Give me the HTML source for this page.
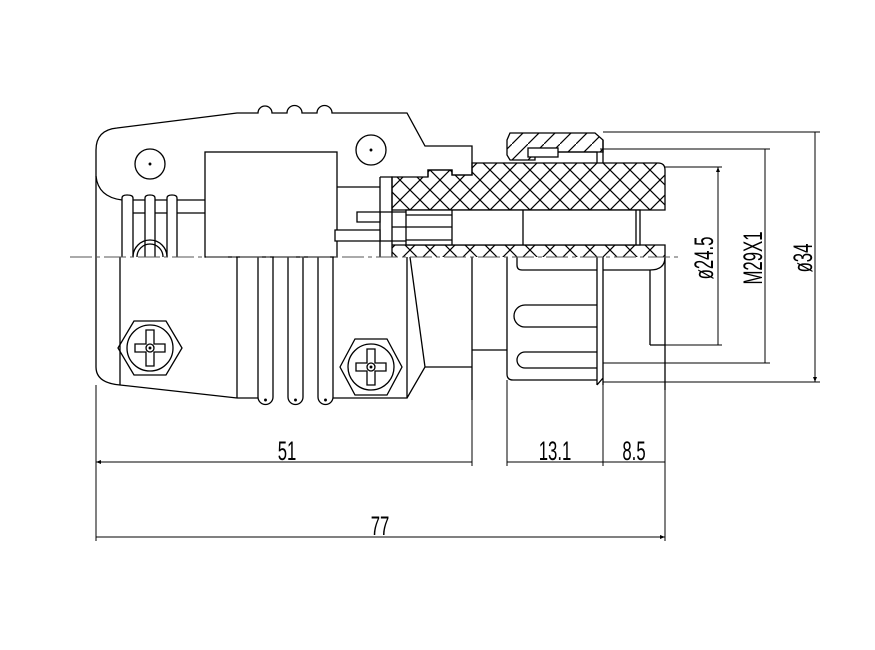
<!DOCTYPE html>
<html><head><meta charset="utf-8"><style>html,body{margin:0;padding:0;background:#fff}svg{display:block}</style></head>
<body>
<svg width="875" height="650" viewBox="0 0 875 650" xmlns="http://www.w3.org/2000/svg" fill="none" stroke="#000" stroke-width="1.3">
<defs>
<pattern id="xh" width="20" height="20" patternUnits="userSpaceOnUse">
<path d="M0 0L20 20M20 0L0 20" stroke="#000" stroke-width="1.2"/>
</pattern>
<pattern id="dh" width="16" height="16" patternUnits="userSpaceOnUse">
<path d="M0 16L16 0" stroke="#000" stroke-width="1.2"/>
</pattern>
<marker id="a" viewBox="0 0 10 10" refX="10" refY="5" markerWidth="16" markerHeight="5" orient="auto-start-reverse" markerUnits="userSpaceOnUse"><path d="M0 1L10 5L0 9z" fill="#000" stroke="none"/></marker>
</defs>
<rect width="875" height="650" fill="#fff" stroke="none"/>

<path d="M96 150 Q96 130 117 128 L237 113 L258 113 A6 6 0 0 1 272 113 L287 113 A7 7 0 0 1 302 113 L317 113 A7 7 0 0 1 332 113 L407 113 L425 146 L472 146 L472 175 L452 175 L452 170 L428 170 L428 177"/>
<path d="M96 150 L96 367 Q96 383 120 385 L237 398"/>
<path d="M96 176 Q98 197 122 200"/>
<circle cx="150" cy="164" r="15"/><circle cx="150" cy="164" r="0.8" fill="#000"/>
<circle cx="371" cy="150" r="15"/><circle cx="371" cy="150" r="0.8" fill="#000"/>
<rect x="205" y="152" width="132" height="105"/>
<path d="M122 257V198Q122 195 127 195Q133 195 133 198V257M145 257V198Q145 195 150 195Q155 195 155 198V257M167 257V198Q167 195 172 195Q177 195 177 198V257"/>
<path d="M133 200H145M155 200H167M177 200H205M133 213H145M155 213H167M177 213H205"/>
<path d="M133 257A17 17 0 0 1 167 257M137 257A13 13 0 0 1 163 257"/>
<path d="M337 187H380M380 177H392V257M380 177V257"/>
<path d="M120 257V385M237 257V398M237 398H258M333 398H407V257M407 398L425 367L410 257M425 367H472M472 257V400M472 350H507"/>
<path d="M258 257V397A7 7 0 0 0 273 397V257M288 257V397A7 7 0 0 0 303 397V257M318 257V397A7 7 0 0 0 333 397V257"/>
<circle cx="265.5" cy="400" r="0.8" fill="#000"/><circle cx="295.5" cy="400" r="0.8" fill="#000"/><circle cx="325.5" cy="400" r="0.8" fill="#000"/>
<g transform="translate(150,348)">
<path d="M-32 0L-16 -27H16L32 0L16 27H-16Z"/><circle r="23"/>
<path d="M-4 -18H4V-4H15V4H4V18H-4V4H-15V-4H-4Z"/><circle r="4"/><circle r="0.8" fill="#000"/>
</g>
<g transform="translate(371,367)">
<path d="M-31 0L-16 -28H16L31 0L16 28H-16Z"/><circle r="23"/>
<path d="M-4 -18H4V-4H15V4H4V18H-4V4H-15V-4H-4Z"/><circle r="4"/><circle r="0.8" fill="#000"/>
</g>
<path d="M392 177H428L428 170H452V175H472V163H658Q665 163 665 170V210H392Z" fill="url(#xh)"/>
<path d="M392 245H665V257H392Z" fill="url(#xh)" stroke="none"/>
<path d="M392 245H665V257"/>
<path d="M510 133H595L603 140V152H535V160H510L507 155V140Z" fill="url(#dh)"/>
<rect x="528" y="148" width="30" height="9" fill="#fff"/>
<path d="M558 152H597V163M603 140V163"/>
<rect x="406" y="210" width="234" height="35" fill="#fff"/>
<path d="M452 210V245M523 210V245M636 210V245M406 215H452M406 240H452M406 227H452"/>
<path d="M357 212H380V222H357ZM335 230H380V241H335Z" fill="#fff"/>
<path d="M380 212H406M380 241H406M392 227H406"/>
<path d="M507 257V374Q507 380 513 380H597M517 257V265Q517 270 522 270H597M597 257V385M603 257V385M597 385L603 378M665 257V390M650 270V345"/>
<path d="M597 305H525A11 11 0 0 0 525 327H597M597 352H525A8 8 0 0 0 525 368H597"/>
<path d="M603 270H650Q665 270 665 257M650 345H665"/>
<path d="M603 132H820M600 149H770M665 167H722M650 345H722M603 363H770M603 382H820" stroke-width="1"/>
<path d="M718 167V345M765 149V363M815 132V382" stroke-width="1" marker-start="url(#a)" marker-end="url(#a)"/>
<g fill="#000" stroke="none" font-family="Liberation Sans, sans-serif" font-size="27">
<text transform="translate(713,258) rotate(-90) scale(0.62,1)" text-anchor="middle">ø24.5</text>
<text transform="translate(762,258) rotate(-90) scale(0.62,1)" text-anchor="middle">M29X1</text>
<text transform="translate(812,258) rotate(-90) scale(0.62,1)" text-anchor="middle">ø34</text>
<text transform="translate(287,460) scale(0.62,1)" text-anchor="middle">51</text>
<text transform="translate(555,460) scale(0.62,1)" text-anchor="middle">13.1</text>
<text transform="translate(634,460) scale(0.62,1)" text-anchor="middle">8.5</text>
<text transform="translate(380,535) scale(0.62,1)" text-anchor="middle">77</text>
</g>
<path d="M96 385V541M472 400V466M507 380V466M603 385V466M665 390V541" stroke-width="1"/>
<path d="M96 462H472M507 462H603M603 462H665M96 537H665" stroke-width="1" marker-start="url(#a)" marker-end="url(#a)"/>
<path d="M70 257H680" stroke="#555" stroke-width="1" stroke-dasharray="22 4 4 4"/>
</svg>
</body></html>
